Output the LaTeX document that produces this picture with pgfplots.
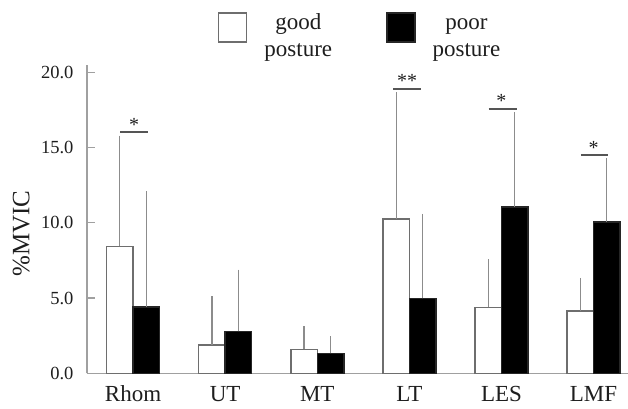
\documentclass[border=0pt]{standalone}
\usepackage{fontspec}
\setmainfont{Liberation Serif}
\usepackage{pgfplots}
\pgfplotsset{compat=1.18}
\definecolor{axgray}{HTML}{A0A0A0}
\definecolor{errgray}{HTML}{8C8C8C}
\definecolor{edgegray}{HTML}{6E6E6E}
\definecolor{sigline}{HTML}{555555}
\definecolor{txt}{HTML}{1E1E1E}

\begin{document}
\begin{tikzpicture}
\begin{axis}[name=ax,
  scale only axis, width=541pt, height=308.3pt,
  xmin=-0.5, xmax=5.374, ymin=0, ymax=20.48,
  ybar=0pt, bar width=26.5pt,
  axis lines*=left,
  axis line style={axgray, line width=1.3pt},
  xtick={0,...,5}, xticklabels={Rhom,UT,MT,LT,LES,LMF},
  major x tick style={draw=none},
  ytick={0,5,10,15,20},
  tick align=inside, major tick length=8pt,
  tick style={axgray, line width=1.2pt},
  yticklabel style={font=\fontsize{18.5}{20}\selectfont, text=txt, xshift=-10pt,
    /pgf/number format/fixed, /pgf/number format/fixed zerofill,
    /pgf/number format/precision=1, /pgf/number format/assume math mode=true},
  xticklabel style={font=\fontsize{23}{25}\selectfont, text=txt, inner sep=0pt, yshift=-12.5pt},
  ylabel={\%MVIC},
  ylabel style={font=\fontsize{25}{27}\selectfont, text=txt,
    at={(axis description cs:-0.1214,0.4534)}, anchor=center},
  legend columns=2,
  legend style={at={(axis description cs:0.503,1.1784)}, anchor=north,
    draw=none, fill=none, inner sep=0pt, text=txt,
    font=\fontsize{23}{27}\selectfont,
    nodes={inner sep=0pt},
    /tikz/every even column/.append style={column sep=54pt},
    /tikz/every odd column/.append style={column sep=17pt}},
  legend image code/.code={\draw[#1] (0pt,-14.5pt) rectangle (28pt,14.5pt);},
  error bars/y dir=plus, error bars/y explicit,
  error bars/error bar style={errgray, line width=1.2pt},
  error bars/error mark options={errgray, mark size=2.5pt, line width=1.2pt},
]
\addplot[fill=white, draw=edgegray, line width=1.5pt] coordinates {
  (0,8.44) +- (0,7.18)
  (1,1.88) +- (0,3.07)
  (2,1.59) +- (0,1.37)
  (3,10.25) +- (0,8.25)
  (4,4.38) +- (0,3.02)
  (5,4.13) +- (0,2.04)};
\addlegendentry{\begin{tabular}{@{}c@{}}good\\posture\end{tabular}}
\addplot[fill=black, draw=black!85, line width=1.5pt] coordinates {
  (0,4.42) +- (0,7.51)
  (1,2.78) +- (0,3.94)
  (2,1.33) +- (0,0.97)
  (3,4.97) +- (0,5.46)
  (4,11.05) +- (0,6.12)
  (5,10.06) +- (0,4.06)};
\addlegendentry{\begin{tabular}{@{}c@{}}poor\\posture\end{tabular}}

% significance brackets
\draw[sigline, line width=1.3pt] (axis cs:-0.141,16.02) -- (axis cs:0.166,16.02);
\draw[sigline, line width=1.3pt] (axis cs:2.823,18.89) -- (axis cs:3.13,18.89);
\draw[sigline, line width=1.3pt] (axis cs:3.862,17.56) -- (axis cs:4.17,17.56);
\draw[sigline, line width=1.3pt] (axis cs:4.861,14.5) -- (axis cs:5.152,14.5);
\node[anchor=base, text=txt, font=\fontsize{20}{20}\selectfont, yshift=1pt] at (axis cs:0.012,16.02) {*};
\node[anchor=base, text=txt, font=\fontsize{20}{20}\selectfont, yshift=1pt] at (axis cs:2.977,18.89) {**};
\node[anchor=base, text=txt, font=\fontsize{20}{20}\selectfont, yshift=1pt] at (axis cs:4.0,17.56) {*};
\node[anchor=base, text=txt, font=\fontsize{20}{20}\selectfont, yshift=1pt] at (axis cs:5.0,14.5) {*};
\end{axis}
\pgfresetboundingbox
\path ([xshift=-87pt,yshift=-34.7pt]ax.south west) rectangle ([yshift=65pt]ax.north east);
\end{tikzpicture}
\end{document}
